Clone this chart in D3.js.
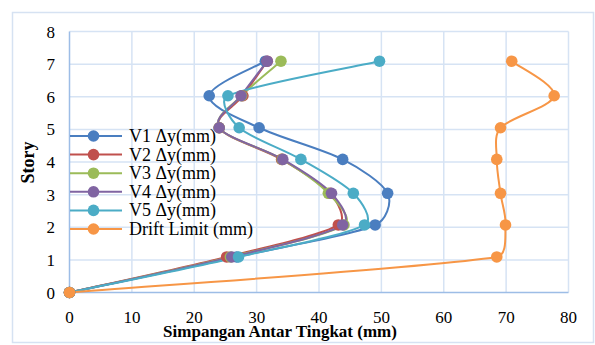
<!DOCTYPE html>
<html>
<head>
<meta charset="utf-8">
<script src="https://cdn.jsdelivr.net/npm/d3@7"></script>
<style>
  html, body { margin: 0; padding: 0; background: #fff; }
  svg { display: block; }
  text { font-family: "Liberation Serif", "Times New Roman", serif; fill: #000; }
</style>
</head>
<body>
<svg id="chart" width="595" height="345"></svg>
<script>
// story levels as they sit on the chart
const storyLevels = [0, 1.09, 2.07, 3.04, 4.08, 5.05, 6.03, 7.09];

const seriesNames = ['V1 \u0394y(mm)', 'V2 \u0394y(mm)', 'V3 \u0394y(mm)',
                     'V4 \u0394y(mm)', 'V5 \u0394y(mm)', 'Drift Limit (mm)'];
const seriesColors = ['#4A7EC0', '#C0504D', '#9BBB59', '#8064A2', '#4BACC6', '#F79646'];

// drift (mm) per story, bottom to top
const v1 = [0, 26.8, 49.0, 51.0, 43.8, 30.4, 22.4, 31.4];
const v2 = [0, 25.2, 43.1, 41.8, 34.0, 24.0, 27.8, 31.7];
const v3 = [0, 25.8, 44.0, 41.5, 34.1, 24.0, 27.6, 33.9];
const v4 = [0, 26.0, 43.8, 42.0, 34.2, 24.0, 27.5, 31.7];
const v5 = [0, 27.1, 47.3, 45.5, 37.1, 27.2, 25.4, 49.7];
const driftLimit = [0, 68.5, 69.9, 69.1, 68.5, 69.1, 77.7, 70.9];

const xTicks = [0, 10, 20, 30, 40, 50, 60, 70, 80];
const yTicks = [0, 1, 2, 3, 4, 5, 6, 7, 8];

const allSeries = [v1, v2, v3, v4, v5, driftLimit];

const svg = d3.select('#chart');

const plotL = 69.5, plotR = 568.5, plotT = 31.5, plotB = 292.5;

const x = d3.scaleLinear().domain([0, 80]).range([plotL, plotR]);
const y = d3.scaleLinear().domain([0, 8]).range([plotB, plotT]);

// outer chart border
svg.append('rect')
  .attr('x', 12.5).attr('y', 12.5)
  .attr('width', 581).attr('height', 330)
  .attr('fill', '#fff')
  .attr('stroke', '#D6E2F2')
  .attr('stroke-width', 1.5);

// gridlines
const grid = svg.append('g').attr('stroke', '#D6E3F4').attr('stroke-width', 1.5);
grid.selectAll('line.gx')
  .data(xTicks.slice(1))
  .join('line')
    .attr('x1', d => x(d)).attr('x2', d => x(d))
    .attr('y1', plotT).attr('y2', plotB);
grid.selectAll('line.gy')
  .data(yTicks.slice(1))
  .join('line')
    .attr('x1', plotL).attr('x2', plotR)
    .attr('y1', d => y(d)).attr('y2', d => y(d));

// axis lines
svg.append('line')
  .attr('x1', plotL).attr('x2', plotL).attr('y1', plotT).attr('y2', plotB)
  .attr('stroke', '#9DBDE6').attr('stroke-width', 1.5);
svg.append('line')
  .attr('x1', plotL).attr('x2', plotR).attr('y1', plotB).attr('y2', plotB)
  .attr('stroke', '#9DBDE6').attr('stroke-width', 1.5);

// tick labels
svg.append('g').selectAll('text')
  .data(xTicks)
  .join('text')
    .attr('x', d => x(d))
    .attr('y', 322.5)
    .attr('text-anchor', 'middle')
    .attr('font-size', 17)
    .text(d => d);

svg.append('g').selectAll('text')
  .data(yTicks)
  .join('text')
    .attr('x', 55)
    .attr('y', d => y(d) + 6)
    .attr('text-anchor', 'end')
    .attr('font-size', 17)
    .text(d => d);

// axis titles
svg.append('text')
  .attr('x', 280).attr('y', 336.5)
  .attr('text-anchor', 'middle')
  .attr('font-size', 17)
  .attr('font-weight', 'bold')
  .text('Simpangan Antar Tingkat (mm)');

svg.append('text')
  .attr('transform', 'translate(34,162.5) rotate(-90)')
  .attr('text-anchor', 'middle')
  .attr('font-size', 18)
  .attr('font-weight', 'bold')
  .text('Story');

// Excel-ish smoothing: catmull-rom tangents, control arms capped at a third
// of the segment so a short segment next to a long one doesn't overshoot
function smoothPath(pts) {
  const p = d3.path();
  const n = pts.length;
  const tan = pts.map((pt, i) => {
    const a = pts[Math.max(0, i - 1)], b = pts[Math.min(n - 1, i + 1)];
    return [(b[0] - a[0]) / 6, (b[1] - a[1]) / 6];
  });
  const clamp = (t, len) => {
    const m = Math.hypot(t[0], t[1]);
    const lim = len / 3;
    return m > lim && m > 0 ? [t[0] * lim / m, t[1] * lim / m] : t;
  };
  p.moveTo(pts[0][0], pts[0][1]);
  for (let i = 0; i < n - 1; i++) {
    const a = pts[i], b = pts[i + 1];
    const len = Math.hypot(b[0] - a[0], b[1] - a[1]);
    const t0 = clamp(tan[i], len), t1 = clamp(tan[i + 1], len);
    p.bezierCurveTo(a[0] + t0[0], a[1] + t0[1], b[0] - t1[0], b[1] - t1[1], b[0], b[1]);
  }
  return p.toString();
}

const plot = svg.append('g');
allSeries.forEach((vals, i) => {
  const pts = vals.map((v, k) => [x(v), y(storyLevels[k])]);
  plot.append('path')
    .attr('d', smoothPath(pts))
    .attr('fill', 'none')
    .attr('stroke', seriesColors[i])
    .attr('stroke-width', 2);
});
allSeries.forEach((vals, i) => {
  const pts = vals.map((v, k) => [v, storyLevels[k]]);
  plot.append('g').selectAll('circle')
    .data(pts)
    .join('circle')
      .attr('cx', d => x(d[0]))
      .attr('cy', d => y(d[1]))
      .attr('r', 5.8)
      .attr('fill', seriesColors[i]);
});

// legend (no background)
const legend = svg.append('g');
const legY = d3.scaleLinear().domain([0, 5]).range([136, 229]);
seriesNames.forEach((name, i) => {
  const g = legend.append('g').attr('transform', `translate(0,${legY(i)})`);
  g.append('line')
    .attr('x1', 70).attr('x2', 122)
    .attr('stroke', seriesColors[i]).attr('stroke-width', 2);
  g.append('circle')
    .attr('cx', 93.5).attr('r', 5.8)
    .attr('fill', seriesColors[i]);
  g.append('text')
    .attr('x', 129).attr('y', 6)
    .attr('font-size', 18)
    .text(name);
});
</script>
</body>
</html>
